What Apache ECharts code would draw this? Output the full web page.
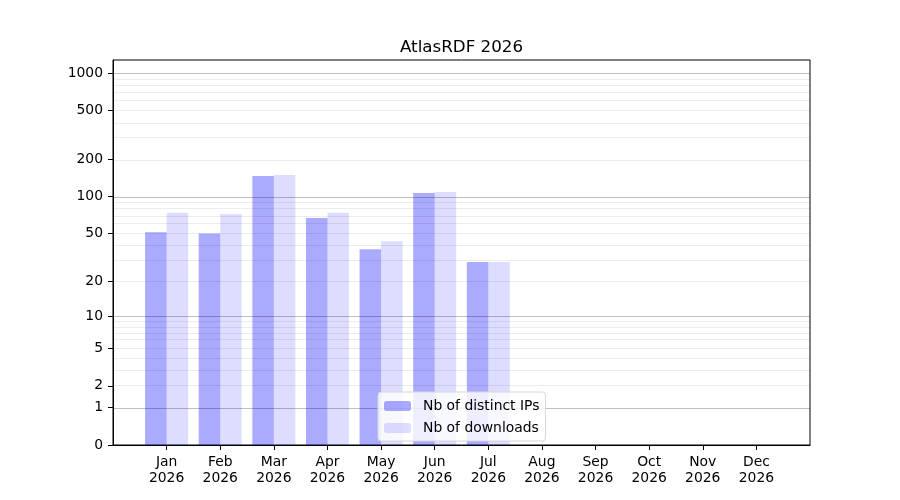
<!DOCTYPE html>
<html>
<head>
<meta charset="utf-8">
<script src="https://cdn.jsdelivr.net/npm/echarts@6/dist/echarts.min.js"></script>
<style>html,body{margin:0;padding:0;background:#fff}#c{width:900px;height:500px}</style>
</head>
<body>
<div id="c"></div>
<script>
const months = ['Jan','Feb','Mar','Apr','May','Jun','Jul','Aug','Sep','Oct','Nov','Dec'];
const year = '2026';
const distinctIPs = [51, 50, 147, 67, 37, 107, 29, 0, 0, 0, 0, 0];
const downloads = [74, 72, 150, 74, 43, 109, 29, 0, 0, 0, 0, 0];
const yTicks = [0, 1, 2, 5, 10, 20, 50, 100, 200, 500, 1000];
const majorGrid = [1, 10, 100, 1000];
const minorGrid = [2,3,4,5,6,7,8,9,20,30,40,50,60,70,80,90,200,300,400,500,600,700,800,900];
const yMaxRaw = 1278;

const t = v => Math.log10(v + 1);
const inv = y => Math.round(Math.pow(10, y) - 1);

const cats = [''].concat(months.map(m => m + '\n' + year)).concat(['']);
const pad = arr => ['-'].concat(arr.map(t)).concat(['-']);

const font = 'DejaVu Sans';
const chart = echarts.init(document.getElementById('c'));
chart.setOption({
  animation: false,
  backgroundColor: '#fff',
  title: {
    text: 'AtlasRDF 2026',
    left: 395, top: 34,
    textStyle: { fontFamily: font, fontSize: 16.7, fontWeight: 'normal', color: '#000' }
  },
  grid: { left: 113, right: 90, top: 60, bottom: 55, show: true, borderColor: '#000', borderWidth: 1, containLabel: false },
  legend: {
    orient: 'vertical',
    left: 378, top: 392,
    padding: [7, 6, 6, 6],
    itemWidth: 27, itemHeight: 10, itemGap: 8,
    backgroundColor: 'rgba(255,255,255,0.8)',
    borderColor: '#d6d6d6', borderWidth: 1, borderRadius: 3,
    textStyle: { fontFamily: font, fontSize: 13.9, color: '#000', padding: [0, 0, 0, 7], lineHeight: 14 },
    data: ['Nb of distinct IPs', 'Nb of downloads']
  },
  xAxis: {
    type: 'category',
    data: cats,
    boundaryGap: false,
    axisLine: { show: true, lineStyle: { color: '#000', width: 1 } },
    axisTick: { show: true, length: 5, lineStyle: { color: '#000', width: 1 },
      interval: (i) => i > 0 && i < cats.length - 1 },
    axisLabel: { interval: 0, margin: 9, color: '#000', fontFamily: font, fontSize: 13.9, lineHeight: 16 },
    splitLine: { show: false }
  },
  yAxis: {
    type: 'value',
    min: 0, max: t(yMaxRaw),
    axisLine: { show: true, lineStyle: { color: '#000', width: 1 } },
    axisTick: { show: true, length: 5, lineStyle: { color: '#000', width: 1 }, customValues: yTicks.map(t) },
    axisLabel: { margin: 10, color: '#000', fontFamily: font, fontSize: 13.9, customValues: yTicks.map(t),
      formatter: v => String(inv(v)) },
    splitLine: { show: false }
  },
  series: [
    {
      name: 'Nb of distinct IPs', type: 'bar', data: pad(distinctIPs),
      barWidth: 21.5, barGap: '0%',
      itemStyle: { color: 'rgba(0,0,255,0.333)' }, z: 2
    },
    {
      name: 'Nb of downloads', type: 'bar', data: pad(downloads),
      barWidth: 21.5, barGap: '0%',
      itemStyle: { color: 'rgba(0,0,255,0.135)' }, z: 2
    },
    {
      name: 'grid', type: 'line', data: [], silent: true, z: 3,
      markLine: {
        silent: true, symbol: 'none', z: 3, animation: false,
        label: { show: false },
        data: minorGrid.map(v => ({ yAxis: t(v), lineStyle: { color: 'rgba(0,0,0,0.075)', width: 1, type: 'solid' } }))
          .concat(majorGrid.map(v => ({ yAxis: t(v), lineStyle: { color: 'rgba(0,0,0,0.25)', width: 1, type: 'solid' } })))
      }
    }
  ]
});
</script>
</body>
</html>
